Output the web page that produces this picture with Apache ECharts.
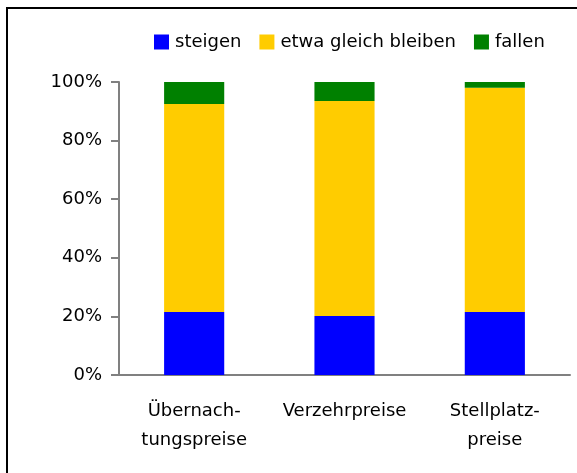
<!DOCTYPE html>
<html>
<head>
<meta charset="utf-8" />
<title>Preisentwicklung</title>
<script src="https://cdn.jsdelivr.net/npm/echarts@6/dist/echarts.min.js"></script>
<style>
  body { margin: 0; background: #fff; }
  #frame { position: absolute; left: 6px; top: 7px; width: 571px; height: 466px;
           border-left: 2px solid #000; border-top: 2px solid #000; box-sizing: border-box; }
  #main { position: absolute; left: 0; top: 0; width: 577px; height: 473px; }
</style>
</head>
<body>
<div id="frame"></div>
<div id="main"></div>
<script type="text/javascript">
// Kategorien und Anteile in %
var categories = ['Übernach-\ntungspreise', 'Verzehrpreise', 'Stellplatz-\npreise'];
var steigen = [21.5, 20.1, 21.5];
var gleich = [71.0, 73.4, 76.5];
var fallen = [7.5, 6.5, 2.0];
var yTicks = [0, 20, 40, 60, 80, 100];

var font = 'DejaVu Sans';
var chart = echarts.init(document.getElementById('main'));

var option = {
  animation: false,
  textStyle: { fontFamily: font, color: '#000' },
  legend: {
    left: 149, top: 28,
    itemWidth: 15, itemHeight: 15, itemGap: 18,
    icon: 'rect',
    textStyle: { fontSize: 18, fontFamily: font, color: '#000', padding: [0, 0, 0, 1] },
    data: ['steigen', 'etwa gleich bleiben', 'fallen']
  },
  grid: { left: 119, right: 7, top: 82, bottom: 98 },
  xAxis: {
    type: 'category',
    data: categories,
    axisLine: { lineStyle: { color: '#808080', width: 2 } },
    axisTick: { length: 8, lineStyle: { color: '#808080', width: 2 } },
    axisLabel: { interval: 0, fontSize: 18, color: '#000', lineHeight: 29, margin: 22, fontFamily: font }
  },
  yAxis: {
    type: 'value',
    min: yTicks[0], max: yTicks[yTicks.length - 1], interval: 20,
    axisLine: { show: true, lineStyle: { color: '#808080', width: 2 } },
    axisTick: { show: true, length: 8, lineStyle: { color: '#808080', width: 2 } },
    splitLine: { show: false },
    axisLabel: { fontSize: 18, color: '#000', margin: 17, formatter: '{value}%', fontFamily: font }
  },
  series: [
    { name: 'steigen', type: 'bar', stack: 'a', barWidth: '40%', data: steigen, itemStyle: { color: '#0000ff' } },
    { name: 'etwa gleich bleiben', type: 'bar', stack: 'a', data: gleich, itemStyle: { color: '#ffcc00' } },
    { name: 'fallen', type: 'bar', stack: 'a', data: fallen, itemStyle: { color: '#008000' } }
  ]
};
chart.setOption(option);
</script>
</body>
</html>
